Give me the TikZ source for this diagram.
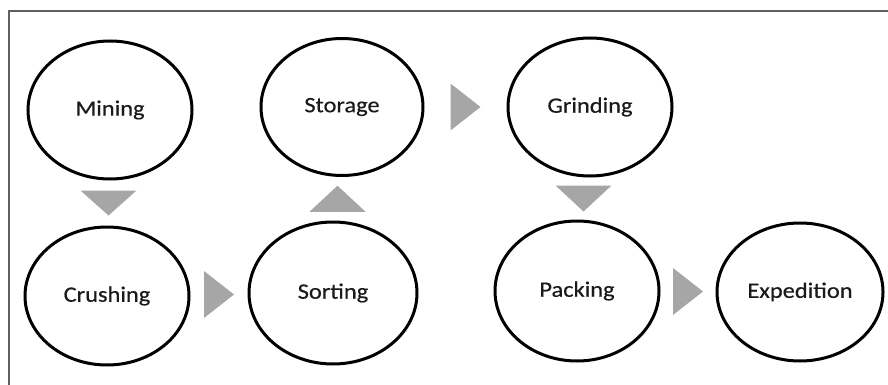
\documentclass[tikz,border=0pt]{standalone}
\usepackage{fontspec}
\setmainfont{Carlito}[FakeStretch=1.11,FakeBold=0.4]
\usetikzlibrary{shapes.geometric,calc}
\definecolor{trigray}{HTML}{A6A6A6}
\definecolor{framegray}{HTML}{606060}
\definecolor{txt}{HTML}{1A1A1A}
\tikzset{
  stage/.style={ellipse, draw=black, line width=3pt, inner sep=0pt,
    minimum width=164pt, minimum height=138pt, text=txt,
    font=\fontsize{22}{26}\selectfont},
  tri/.style={fill=trigray, draw=none},
  framel/.style={draw=framegray, line width=1.6pt}
}
\begin{document}
\begin{tikzpicture}[x=1pt,y=-1pt]
\useasboundingbox (0,0) rectangle (888,385);
\fill[white] (0,0) rectangle (888,385);
\draw[framel] (9,385) -- (9,11) -- (888,11);

\node[stage] (mining) at (110,110) {Mining};
\node[stage] (crushing) at (107,296) {Crushing};
\node[stage, minimum width=168pt, minimum height=142pt] (sorting) at (333,293) {Sorting};
\node[stage, minimum width=162pt, minimum height=137pt] (storage) at (342,107) {Storage};
\node[stage] (grinding) at (590,107) {Grinding};
\node[stage, minimum height=140pt] (packing) at (577,291) {Packing};
\node[stage, minimum width=166pt] (expedition) at (800,292) {Expedition};

% down: mining -> crushing
\fill[tri] ($(mining.south)!0.5!(crushing.north)$) ++(-28,-12.5) -- ++(56,0) -- ++(-28,25) -- cycle;
% right: crushing -> sorting
\fill[tri] ($(crushing.east)!0.5!(sorting.west)$) ++(-15,-23.5) -- ++(30,23.5) -- ++(-30,23.5) -- cycle;
% up: sorting -> storage
\fill[tri] ($(sorting.north)!0.5!(storage.south)$) ++(-28,13) -- ++(56,0) -- ++(-28,-26) -- cycle;
% right: storage -> grinding
\fill[tri] ($(storage.east)!0.5!(grinding.west)$) ++(-15,-23.5) -- ++(30,23.5) -- ++(-30,23.5) -- cycle;
% down: grinding -> packing
\fill[tri] ($(grinding.south)!0.5!(packing.north)$) ++(-28,-13) -- ++(56,0) -- ++(-28,26) -- cycle;
% right: packing -> expedition
\fill[tri] ($(packing.east)!0.5!(expedition.west)$) ++(-15,-23.5) -- ++(30,23.5) -- ++(-30,23.5) -- cycle;
\end{tikzpicture}
\end{document}
